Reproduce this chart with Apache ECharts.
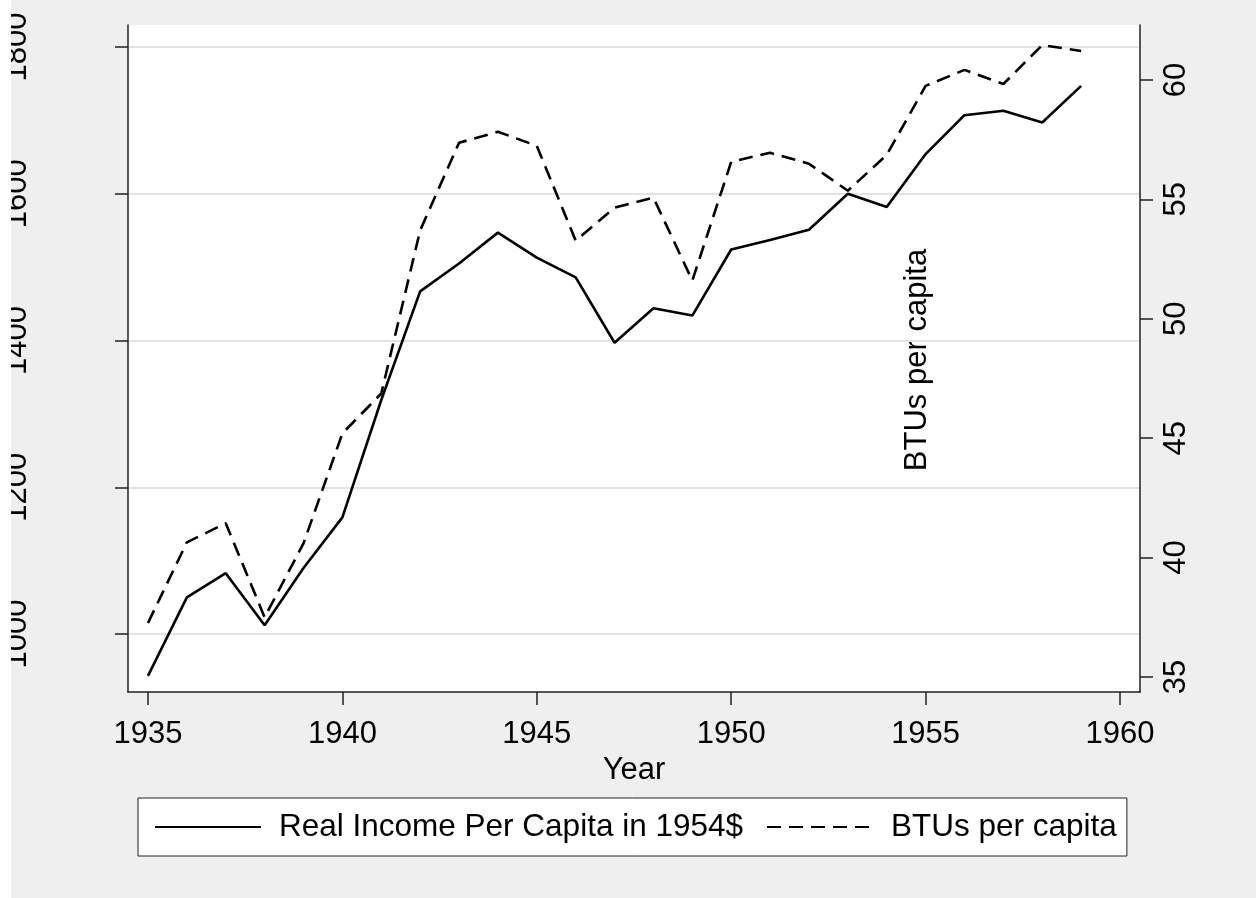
<!DOCTYPE html>
<html>
<head>
<meta charset="utf-8">
<script src="https://cdn.jsdelivr.net/npm/echarts@6/dist/echarts.min.js"></script>
<style>
  html, body { margin: 0; padding: 0; background: #efefef; }
  #chart { width: 1256px; height: 898px; }
</style>
</head>
<body>
<div id="chart"></div>
<script>
// data
const years = [1935, 1936, 1937, 1938, 1939, 1940, 1941, 1942, 1943, 1944, 1945, 1946,
  1947, 1948, 1949, 1950, 1951, 1952, 1953, 1954, 1955, 1956, 1957, 1958, 1959];
const income = [943, 1050, 1083, 1012, 1090, 1159, 1319, 1467, 1505, 1547, 1513, 1486,
  1397, 1444, 1434, 1524, 1537, 1551, 1600, 1582, 1654, 1707, 1713, 1697, 1747];
const btus = [37.26, 40.64, 41.44, 37.5, 40.6, 45.2, 46.87, 53.7, 57.37, 57.83, 57.24, 53.27,
  54.65, 55.07, 51.6, 56.57, 56.95, 56.49, 55.36, 56.86, 59.75, 60.42, 59.83, 61.46, 61.21];

const xTicks = [1935, 1940, 1945, 1950, 1955, 1960];
const leftTicks = [1000, 1200, 1400, 1600, 1800];
const rightTicks = [35, 40, 45, 50, 55, 60];

const incomeName = 'Real Income Per Capita in 1954$';
const btuName = 'BTUs per capita';

const font = 'Liberation Sans, Arial, sans-serif';
const axisColor = '#222';
const plain = v => String(v);  // no thousands separator

const chart = echarts.init(document.getElementById('chart'));

const option = {
  backgroundColor: '#efefef',
  animation: false,
  textStyle: { fontFamily: font },
  grid: {
    left: 128, right: 116, top: 25, bottom: 206,
    outerBoundsMode: 'none',
    show: true, backgroundColor: '#fff', borderWidth: 0
  },
  legend: {
    left: 138, top: 798,
    backgroundColor: '#fff', borderColor: '#222', borderWidth: 1,
    padding: [13, 10, 13, 16],
    itemWidth: 106, itemHeight: 20, itemGap: 23,
    itemStyle: { opacity: 0 },
    textStyle: { fontSize: 31.5, color: '#000', fontFamily: font, padding: [0, 0, 0, 13] },
    data: [incomeName, btuName]
  },
  xAxis: {
    type: 'value',
    min: 1934.486, max: 1960.514,
    name: 'Year', nameLocation: 'middle', nameGap: 60,
    nameTextStyle: { fontSize: 31, color: '#000' },
    axisLine: { show: true, lineStyle: { color: axisColor, width: 1.5 } },
    axisTick: { show: true, length: 13, customValues: xTicks, lineStyle: { color: axisColor, width: 1.5 } },
    axisLabel: { customValues: xTicks, formatter: plain, fontSize: 31, color: '#000', margin: 27 },
    splitLine: { show: false }
  },
  yAxis: [
    {
      type: 'value',
      position: 'left',
      min: 921.1, max: 1829.9,
      axisLine: { show: true, lineStyle: { color: axisColor, width: 1.5 } },
      axisTick: { show: true, length: 13, customValues: leftTicks, lineStyle: { color: axisColor, width: 1.5 } },
      axisLabel: { customValues: leftTicks, formatter: plain, fontSize: 31, color: '#000', rotate: 90, margin: 95 },
      splitLine: { show: true, lineStyle: { color: '#e3e3e3', width: 2 } }
    },
    {
      type: 'value',
      position: 'right',
      min: 34.373, max: 62.3,
      axisLine: { show: true, lineStyle: { color: axisColor, width: 1.5 } },
      axisTick: { show: true, length: 13, customValues: rightTicks, lineStyle: { color: axisColor, width: 1.5 } },
      axisLabel: { customValues: rightTicks, formatter: plain, fontSize: 31, color: '#000', rotate: 90, margin: 21 },
      splitLine: { show: false }
    }
  ],
  graphic: [
    {
      type: 'text',
      x: 917, y: 360,
      rotation: Math.PI / 2,
      style: {
        text: btuName, fontSize: 31, fontFamily: font, fill: '#000',
        align: 'center', verticalAlign: 'middle'
      }
    },
    // white strip on the left edge that cuts into the left tick labels
    {
      type: 'rect',
      z: 100,
      shape: { x: 0, y: 0, width: 11, height: 898 },
      style: { fill: '#fff' }
    }
  ],
  series: [
    {
      name: incomeName,
      type: 'line',
      yAxisIndex: 0,
      symbol: 'none',
      lineStyle: { color: '#000', width: 2.6 },
      itemStyle: { color: '#000' },
      data: years.map((y, i) => [y, income[i]])
    },
    {
      name: btuName,
      type: 'line',
      yAxisIndex: 1,
      symbol: 'none',
      lineStyle: { color: '#000', width: 2.6, type: [14, 8] },
      itemStyle: { color: '#000' },
      data: years.map((y, i) => [y, btus[i]])
    }
  ]
};

chart.setOption(option);
</script>
</body>
</html>
